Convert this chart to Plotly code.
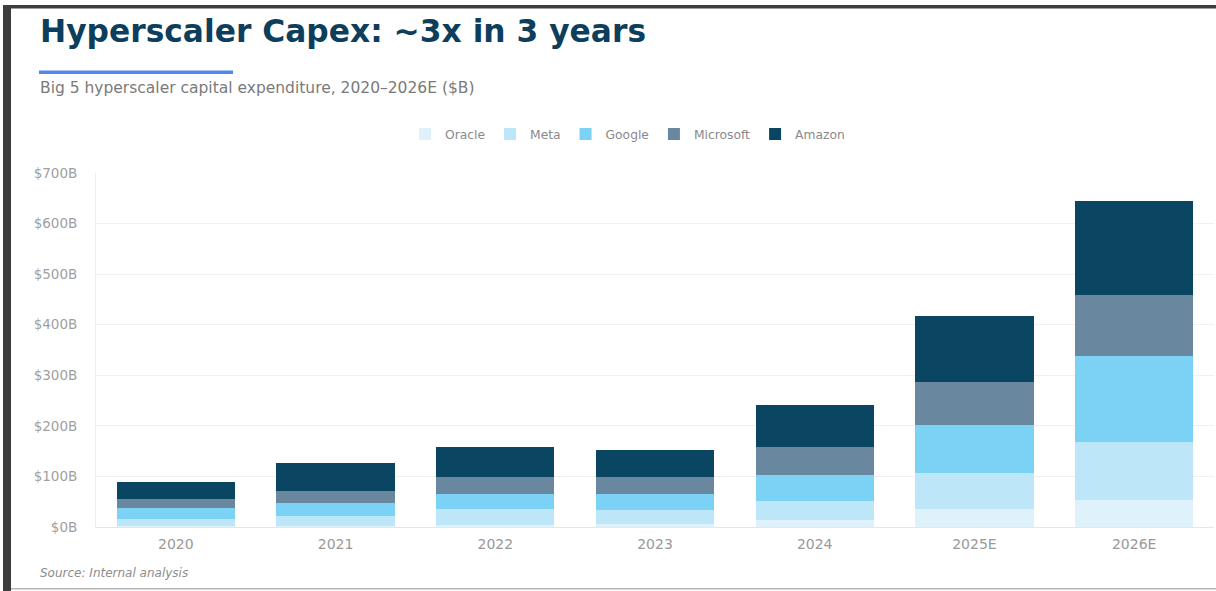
import plotly.graph_objects as go

years = ["2020", "2021", "2022", "2023", "2024", "2025E", "2026E"]
oracle = [2, 2, 4, 6, 14, 35, 54]
meta = [14, 19, 31, 28, 38, 72, 115]
google = [22, 26, 31, 32, 51, 94, 170]
microsoft = [18, 24, 32, 33, 56, 86, 120]
amazon = [33, 55, 60, 53, 83, 130, 186]

series = [
    ("Oracle", oracle, "#dff2fc"),
    ("Meta", meta, "#bde6f8"),
    ("Google", google, "#7bd2f5"),
    ("Microsoft", microsoft, "#6a87a0"),
    ("Amazon", amazon, "#0a4562"),
]

tick_vals = [0, 100, 200, 300, 400, 500, 600, 700]
tick_text = ["$0B", "$100B", "$200B", "$300B", "$400B", "$500B", "$600B", "$700B"]

W, H = 1216, 591
ML, MR, MT, MB = 96, 2, 173, 64
PW, PH = W - ML - MR, H - MT - MB


def px(x):
    return (x - ML) / PW


def py(y):
    return (H - MB - y) / PH


FONT = "DejaVu Sans"

fig = go.Figure()
for name, vals, col in series:
    fig.add_trace(go.Bar(x=years, y=vals, name=name, marker_color=col,
                         marker_line_width=0))

fig.update_layout(
    width=W, height=H,
    margin=dict(l=ML, r=MR, t=MT, b=MB),
    barmode="stack", bargap=0.26,
    paper_bgcolor="white", plot_bgcolor="white",
    font=dict(family=FONT, color="#999999"),
    showlegend=True,
    legend=dict(orientation="h", x=px(405), y=py(134), xanchor="left",
                yanchor="middle", font=dict(size=12.3, color="#8a8a8a"),
                itemclick=False, traceorder="normal"),
    xaxis=dict(showgrid=False, showline=True, linecolor="#e6e6e6",
               linewidth=1, tickfont=dict(size=14, color="#999999"),
               ticks="", ticklabelstandoff=4, fixedrange=True),
    yaxis=dict(range=[0, 700], tickvals=tick_vals, ticktext=tick_text,
               showgrid=True, gridcolor="#f0f0f0", gridwidth=1,
               zeroline=False, showline=True, linecolor="#eeeeee",
               tickfont=dict(size=13.5, color="#a0a0a0"), ticks="",
               ticklabelstandoff=15, fixedrange=True),
)

# frame of the screenshot
fig.add_shape(type="rect", xref="paper", yref="paper",
              x0=px(3), x1=px(11), y0=py(591), y1=py(5),
              fillcolor="#3d3d3d", line_width=0, layer="above")
fig.add_shape(type="rect", xref="paper", yref="paper",
              x0=px(3), x1=px(1216), y0=py(8.5), y1=py(5),
              fillcolor="#3d3d3d", line_width=0, layer="above")
fig.add_shape(type="rect", xref="paper", yref="paper",
              x0=px(11), x1=px(1216), y0=py(589.5), y1=py(588),
              fillcolor="#b5b5b5", line_width=0, layer="above")
# blue accent line
fig.add_shape(type="rect", xref="paper", yref="paper",
              x0=px(39), x1=px(233), y0=py(74), y1=py(70.5),
              fillcolor="#4f88ea", line_width=0, layer="above")

fig.add_annotation(text="<b>Hyperscaler Capex: ~3x in 3 years</b>",
                   xref="paper", yref="paper", x=px(38), y=py(31),
                   xanchor="left", yanchor="middle", showarrow=False,
                   font=dict(family=FONT, size=31.3, color="#0d3e5c"))
fig.add_annotation(text="Big 5 hyperscaler capital expenditure, 2020\u20132026E ($B)",
                   xref="paper", yref="paper", x=px(38), y=py(88),
                   xanchor="left", yanchor="middle", showarrow=False,
                   font=dict(family=FONT, size=15.5, color="#7a7a7a"))
fig.add_annotation(text="<i>Source: Internal analysis</i>",
                   xref="paper", yref="paper", x=px(38), y=py(573),
                   xanchor="left", yanchor="middle", showarrow=False,
                   font=dict(family=FONT, size=12, color="#8c8c8c"))

fig.write_html("out.html")
